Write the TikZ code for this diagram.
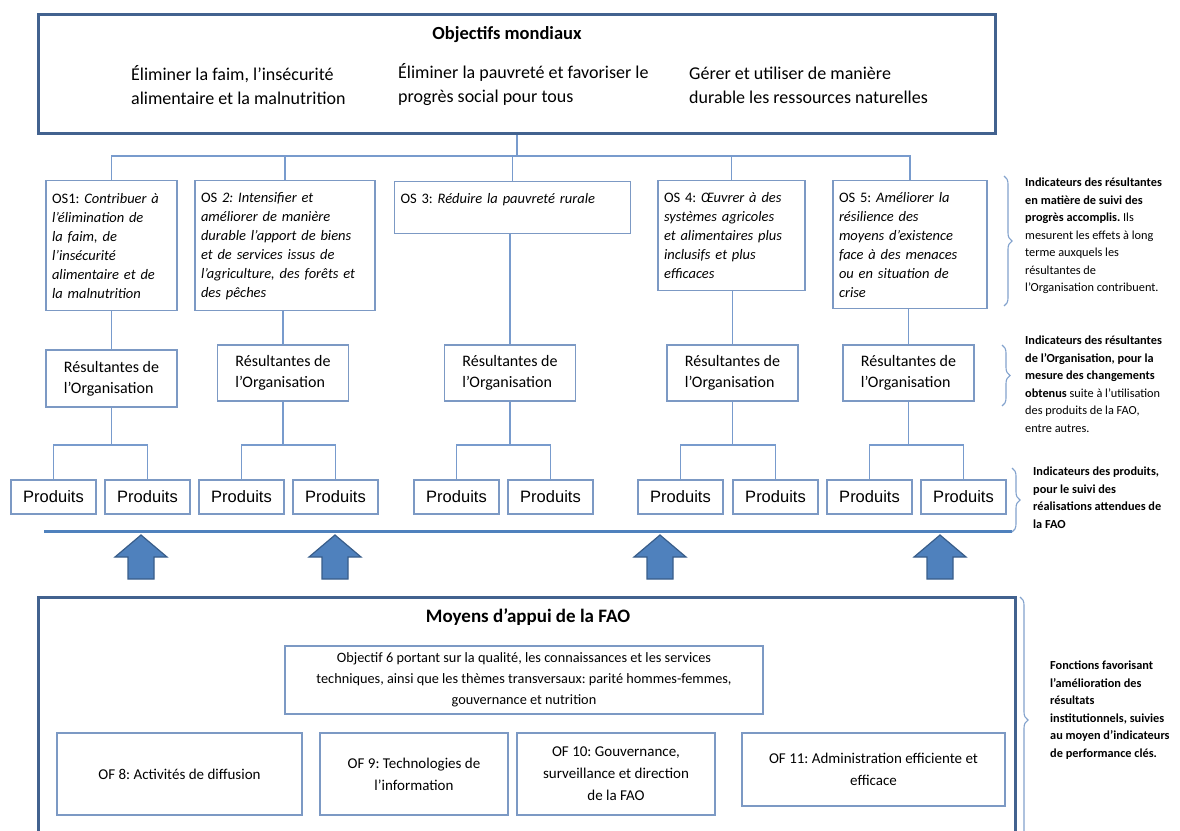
\documentclass[tikz,border=0pt]{standalone}
\usepackage{fontspec}
\setmainfont{Carlito}
\newfontfamily\arialfont{Liberation Sans}
\usetikzlibrary{shapes,arrows,decorations.pathreplacing}
\definecolor{framec}{RGB}{66,98,143}
\definecolor{boxc}{RGB}{124,153,196}
\definecolor{linkc}{RGB}{120,155,205}
\definecolor{sepc}{RGB}{79,129,189}
\definecolor{arrowc}{RGB}{79,129,189}
\definecolor{arrowd}{RGB}{56,93,138}
\definecolor{bracec}{RGB}{130,162,205}
\AtBeginDocument{\frenchspacing}
\tikzset{
	bigframe/.style={draw=framec,line width=3pt},
	osbox/.style={draw=boxc,line width=1.4pt,align=left,anchor=north,inner xsep=6pt,font=\fontsize{14.5}{19}\selectfont},
	resbox/.style={draw=boxc,line width=1.4pt,align=left,minimum width=131pt,minimum height=56pt,font=\fontsize{16}{21}\selectfont},
	prodbox/.style={draw=boxc,line width=1.4pt,minimum width=85pt,minimum height=34pt,font=\arialfont\fontsize{16.5}{20}\selectfont},
	ofbox/.style={draw=boxc,line width=1.4pt,align=center,font=\fontsize{15}{22}\selectfont},
	link/.style={draw=linkc,line width=1.3pt},
	note/.style={anchor=north west,align=left,inner sep=0pt,font=\fontsize{12.3}{17.5}\selectfont},
	curly/.style={draw=bracec,line width=1.1pt,decorate,decoration={brace,amplitude=8pt}},
}

\begin{document}
\begin{tikzpicture}[x=1pt,y=-1pt]
		\useasboundingbox (0,0) rectangle (1180,830);
		\clip (0,0) rectangle (1180,830);
		% objectifs mondiaux
		\node[bigframe,minimum width=957pt,minimum height=119pt] (global) at (517,74) {};
		\node[font=\bfseries\fontsize{18.5}{22}\selectfont] (gtitle) at (507,35) {Objectifs mondiaux};
		\node[anchor=west,align=left,inner sep=0pt,font=\fontsize{18}{24}\selectfont] (goal1) at (131,85) {Éliminer la faim, l’insécurité\\alimentaire et la malnutrition};
		\node[anchor=west,align=left,inner sep=0pt,font=\fontsize{18}{24}\selectfont] (goal2) at (398,85) {Éliminer la pauvreté et favoriser le\\progrès social pour tous};
		\node[anchor=west,align=left,inner sep=0pt,font=\fontsize{18}{24}\selectfont] (goal3) at (689,85) {Gérer et utiliser de manière\\durable les ressources naturelles};
		% objectifs strategiques
		\node[osbox,text width=119pt,minimum height=130pt] (os1) at (111.5,180) {OS1: \textit{Contribuer à}\\\textit{l’élimination de}\\\textit{la faim, de}\\\textit{l’insécurité}\\\textit{alimentaire et de}\\\textit{la malnutrition}};
		\node[osbox,text width=168pt,minimum height=130pt] (os2) at (285,180) {OS \textit{2: Intensifier et}\\\textit{améliorer de manière}\\\textit{durable l’apport de biens}\\\textit{et de services issus de}\\\textit{l’agriculture, des forêts et}\\\textit{des pêches}};
		\node[osbox,text width=224pt,minimum height=52pt] (os3) at (512.5,181) {OS 3: \textit{Réduire la pauvreté rurale}\\\mbox{}};
		\node[osbox,text width=135pt,minimum height=110pt] (os4) at (731.5,180) {OS 4: \textit{Œuvrer à des}\\\textit{systèmes agricoles}\\\textit{et alimentaires plus}\\\textit{inclusifs et plus}\\\textit{efficaces}};
		\node[osbox,text width=142pt,minimum height=128pt] (os5) at (910,180) {OS 5: \textit{Améliorer la}\\\textit{résilience des}\\\textit{moyens d’existence}\\\textit{face à des menaces}\\\textit{ou en situation de}\\\textit{crise}};
		\coordinate (split) at (517,156);
		\draw[link] (global.south) -- (split);
		\draw[link] (split) -| (os1.north);
		\draw[link] (split) -| (os2.north);
		\draw[link] (split) -| (os3.north);
		\draw[link] (split) -| (os4.north);
		\draw[link] (split) -| (os5.north);
		% resultantes
		\node[resbox,minimum height=57pt] (res1) at (111.5,378.5) {Résultantes de\\l’Organisation};
		\node[resbox] (res2) at (283,373) {Résultantes de\\l’Organisation};
		\node[resbox] (res3) at (510,373) {Résultantes de\\l’Organisation};
		\node[resbox] (res4) at (732.5,373) {Résultantes de\\l’Organisation};
		\node[resbox] (res5) at (908.5,373) {Résultantes de\\l’Organisation};
		\draw[link] (res1.north) -- (res1.north |- os1.south);
		\draw[link] (res2.north) -- (res2.north |- os2.south);
		\draw[link] (res3.north) -- (res3.north |- os3.south);
		\draw[link] (res4.north) -- (res4.north |- os4.south);
		\draw[link] (res5.north) -- (res5.north |- os5.south);
		% produits
		\node[prodbox] (p1) at (53.5,497) {Produits};
		\node[prodbox] (p2) at (147.5,497) {Produits};
		\node[prodbox] (p3) at (241.5,497) {Produits};
		\node[prodbox] (p4) at (335.5,497) {Produits};
		\node[prodbox] (p5) at (456.5,497) {Produits};
		\node[prodbox] (p6) at (550.5,497) {Produits};
		\node[prodbox] (p7) at (680.5,497) {Produits};
		\node[prodbox] (p8) at (775.5,497) {Produits};
		\node[prodbox] (p9) at (869.5,497) {Produits};
		\node[prodbox] (p10) at (963.5,497) {Produits};
		\coordinate (s1) at (111.5,445);
		\coordinate (s2) at (283,445);
		\coordinate (s3) at (510,445);
		\coordinate (s4) at (732.5,445);
		\coordinate (s5) at (908.5,445);
		\draw[link] (res1.south) -- (s1);
		\draw[link] (res2.south) -- (s2);
		\draw[link] (res3.south) -- (s3);
		\draw[link] (res4.south) -- (s4);
		\draw[link] (res5.south) -- (s5);
		\draw[link] (p1.north) |- (s1) -| (p2.north);
		\draw[link] (p3.north) |- (s2) -| (p4.north);
		\draw[link] (p5.north) |- (s3) -| (p6.north);
		\draw[link] (p7.north) |- (s4) -| (p8.north);
		\draw[link] (p9.north) |- (s5) -| (p10.north);
		% separation et fleches
		\draw[draw=sepc,line width=3pt] (44,531) -- (1012,531);
		\foreach \x in {141,335,660,940}
			\draw[fill=arrowc,draw=arrowd,line width=1.2pt] (\x,535) -- ++(26,22) -- ++(-13,0) -- ++(0,22) -- ++(-26,0) -- ++(0,-22) -- ++(-13,0) -- cycle;
		% moyens d'appui
		\draw[bigframe] (38,845) |- (1015,597) -- (1015,845);
		\node[font=\bfseries\fontsize{19}{23}\selectfont] (support) at (528,617) {Moyens d’appui de la FAO};
		\node[ofbox,font=\fontsize{14.3}{21}\selectfont,minimum width=478pt,minimum height=68pt] (obj6) at (524,680) {Objectif 6 portant sur la qualité, les connaissances et les services\\techniques, ainsi que les thèmes transversaux: parité hommes-femmes,\\gouvernance et nutrition};
		\node[ofbox,minimum width=245pt,minimum height=82pt] (of8) at (179.5,774) {OF 8: Activités de diffusion};
		\node[ofbox,minimum width=188pt,minimum height=82pt] (of9) at (414,774) {OF 9: Technologies de\\l’information};
		\node[ofbox,minimum width=198pt,minimum height=82pt] (of10) at (616,774) {OF 10: Gouvernance,\\surveillance et direction\\de la FAO};
		\node[ofbox,minimum width=263pt,minimum height=73pt] (of11) at (873.5,769.5) {OF 11: Administration efficiente et\\efficace};
		% indicateurs
		\coordinate (b1a) at (1004,176);
		\coordinate (b1b) at (1004,306);
		\coordinate (b2a) at (1002,345);
		\coordinate (b2b) at (1002,406);
		\coordinate (b3a) at (1012,468);
		\coordinate (b3b) at (1012,532);
		\coordinate (b4a) at (1020,597);
		\coordinate (b4b) at (1020,843);
		\draw[curly] (b1a) -- (b1b);
		\draw[curly] (b2a) -- (b2b);
		\draw[curly] (b3a) -- (b3b);
		\draw[curly] (b4a) -- (b4b);
		\node[note] (n1) at (1025,178) {\textbf{Indicateurs des résultantes}\\\textbf{en matière de suivi des}\\\textbf{progrès accomplis.} Ils\\mesurent les effets à long\\terme auxquels les\\résultantes de\\l’Organisation contribuent.};
		\node[note] (n2) at (1025,336) {\textbf{Indicateurs des résultantes}\\\textbf{de l’Organisation, pour la}\\\textbf{mesure des changements}\\\textbf{obtenus} suite à l’utilisation\\des produits de la FAO,\\entre autres.};
		\node[note] (n3) at (1033,467) {\textbf{Indicateurs des produits,}\\\textbf{pour le suivi des}\\\textbf{réalisations attendues de}\\\textbf{la FAO}};
		\node[note] (n4) at (1050,661) {\textbf{Fonctions favorisant}\\\textbf{l’amélioration des}\\\textbf{résultats}\\\textbf{institutionnels, suivies}\\\textbf{au moyen d’indicateurs}\\\textbf{de performance clés.}};
\end{tikzpicture}
\end{document}
